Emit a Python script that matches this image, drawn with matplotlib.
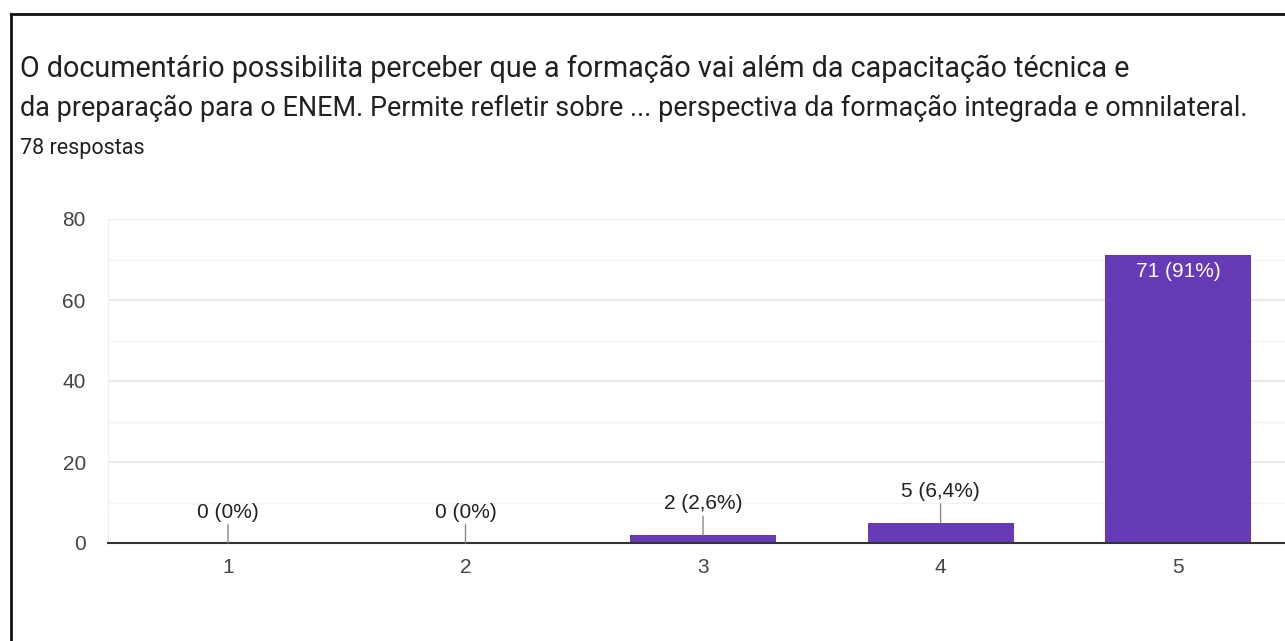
import matplotlib
matplotlib.use('Agg')
import matplotlib.pyplot as plt
from matplotlib.lines import Line2D

# data
categories = ['1', '2', '3', '4', '5']
counts = [0, 0, 2, 5, 71]
labels = ['0 (0%)', '0 (0%)', '2 (2,6%)', '5 (6,4%)', '71 (91%)']

title_lines = ['O documentário possibilita perceber que a formação vai além da capacitação técnica e',
               'da preparação para o ENEM. Permite refletir sobre ... perspectiva da formação integrada e omnilateral.']
subtitle = '78 respostas'
y_ticks = [0, 20, 40, 60, 80]

BAR_COLOR = '#673ab7'
TEXT_COLOR = '#212121'

fig = plt.figure(figsize=(12.85, 6.41), dpi=100)
fig.patch.set_facecolor('white')

# card frame (left + top edges only, the rest is cropped off)
fig.add_artist(Line2D([10.5 / 1285, 10.5 / 1285], [0, 1 - 13.5 / 641],
                      transform=fig.transFigure, color='#111111', lw=2))
fig.add_artist(Line2D([10.5 / 1285, 1], [1 - 13.5 / 641, 1 - 13.5 / 641],
                      transform=fig.transFigure, color='#111111', lw=2))

# header text
fig.text(20 / 1285, 1 - 69 / 641, title_lines[0], family='Roboto', fontsize=20.7,
         color=TEXT_COLOR, va='center', ha='left')
fig.text(20 / 1285, 1 - 108 / 641, title_lines[1], family='Roboto', fontsize=19.45,
         color=TEXT_COLOR, va='center', ha='left')
fig.text(20 / 1285, 1 - 149 / 641, subtitle, family='Roboto', fontsize=15.5,
         color=TEXT_COLOR, va='center', ha='left')

ax = fig.add_axes([108 / 1285, (641 - 543) / 641, 1 - 108 / 1285, 324 / 641])
ax.set_facecolor('white')

x = list(range(1, len(categories) + 1))
ax.bar(x, counts, width=0.615, color=BAR_COLOR, zorder=3)

ax.set_xlim(0.495, 5.45)
ax.set_ylim(0, 80)
ax.set_yticks(y_ticks)
ax.set_yticks([10, 30, 50, 70], minor=True)
ax.set_xticks(x)
ax.set_xticklabels(categories)

ax.grid(axis='y', which='major', color='#e6e6e6', lw=1.2, zorder=0)
ax.grid(axis='y', which='minor', color='#f4f4f4', lw=1.0, zorder=0)
ax.tick_params(axis='both', which='both', length=0, labelsize=15,
               labelcolor='#444444', labelfontfamily='Liberation Sans')
ax.tick_params(axis='y', pad=16)
ax.tick_params(axis='x', pad=11)

for side in ['top', 'right']:
    ax.spines[side].set_visible(False)
ax.spines['left'].set_color('#eeeeee')
ax.spines['bottom'].set_color('#333333')
ax.spines['bottom'].set_linewidth(1.5)
ax.spines['bottom'].set_zorder(4)

for xi, v, lab in zip(x, counts, labels):
    if v > 20:
        ax.annotate(lab, xy=(xi, v), xytext=(0, -16), textcoords='offset pixels',
                    ha='center', va='center', fontsize=15, color='white',
                    family='Liberation Sans', zorder=5)
    else:
        ax.annotate(lab, xy=(xi, v), xytext=(0, 31), textcoords='offset pixels',
                    ha='center', va='center', fontsize=15, color=TEXT_COLOR,
                    family='Liberation Sans', zorder=5,
                    arrowprops=dict(arrowstyle='-', color='#8a8a8a', lw=1,
                                    shrinkA=0, shrinkB=0))

fig.savefig('out.png', dpi=100, facecolor='white')
